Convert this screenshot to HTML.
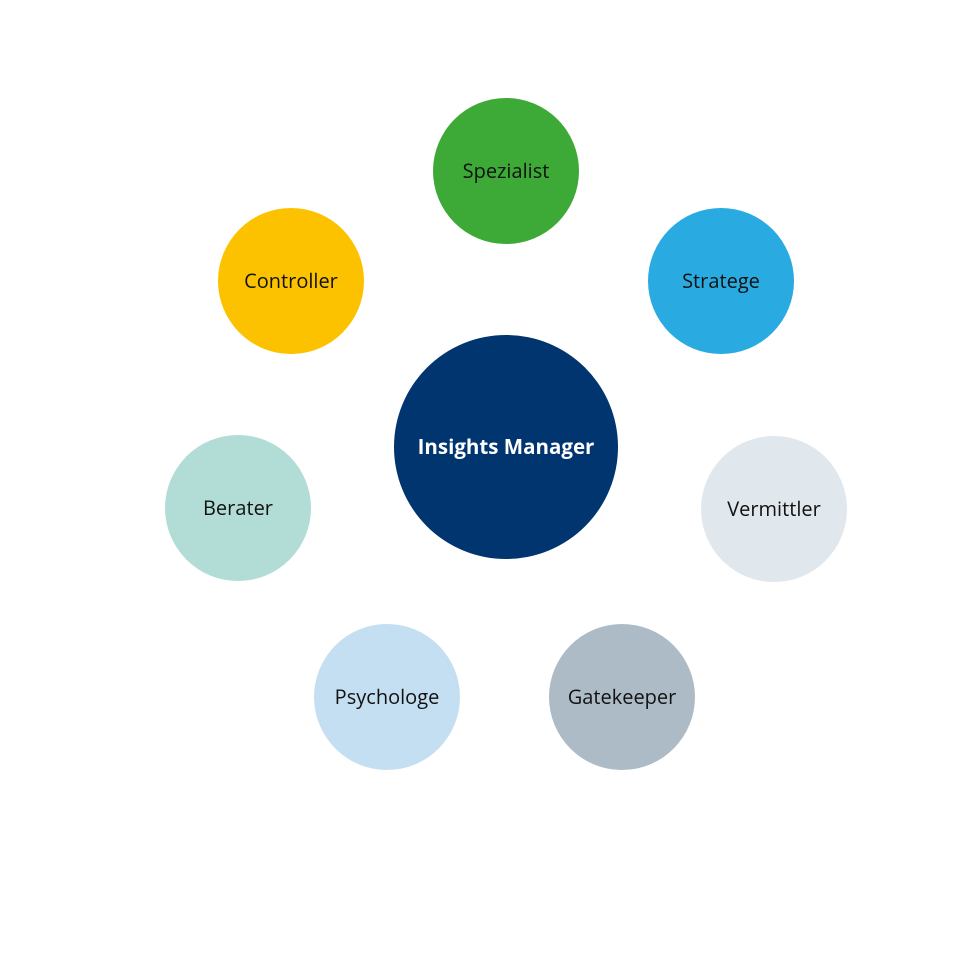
<!DOCTYPE html>
<html><head><meta charset="utf-8"><style>
html,body{margin:0;padding:0;background:#fff;}
</style></head><body>
<svg width="980" height="980" xmlns="http://www.w3.org/2000/svg" style="display:block">
<rect width="980" height="980" fill="#fff"/>
<g font-family="'Open Sans','DejaVu Sans','Liberation Sans',sans-serif" font-size="20" text-anchor="middle" fill="#111">
<circle cx="506" cy="171" r="73" fill="#3daa38"/><text x="506" y="178">Spezialist</text>
<circle cx="291" cy="281" r="73" fill="#fcc200"/><text x="291" y="288">Controller</text>
<circle cx="721" cy="281" r="73" fill="#29abe2"/><text x="721" y="288">Stratege</text>
<circle cx="506" cy="447" r="112" fill="#00356f"/><text x="506" y="454" fill="#fff" font-weight="bold" font-size="20.5">Insights Manager</text>
<circle cx="238" cy="508" r="73" fill="#b2ddd6"/><text x="238" y="515">Berater</text>
<circle cx="774" cy="509" r="73" fill="#e0e7ed"/><text x="774" y="516">Vermittler</text>
<circle cx="387" cy="697" r="73" fill="#c4dff2"/><text x="387" y="704">Psychologe</text>
<circle cx="622" cy="697" r="73" fill="#adbbc6"/><text x="622" y="704">Gatekeeper</text>
</g>
</svg>
</body></html>
